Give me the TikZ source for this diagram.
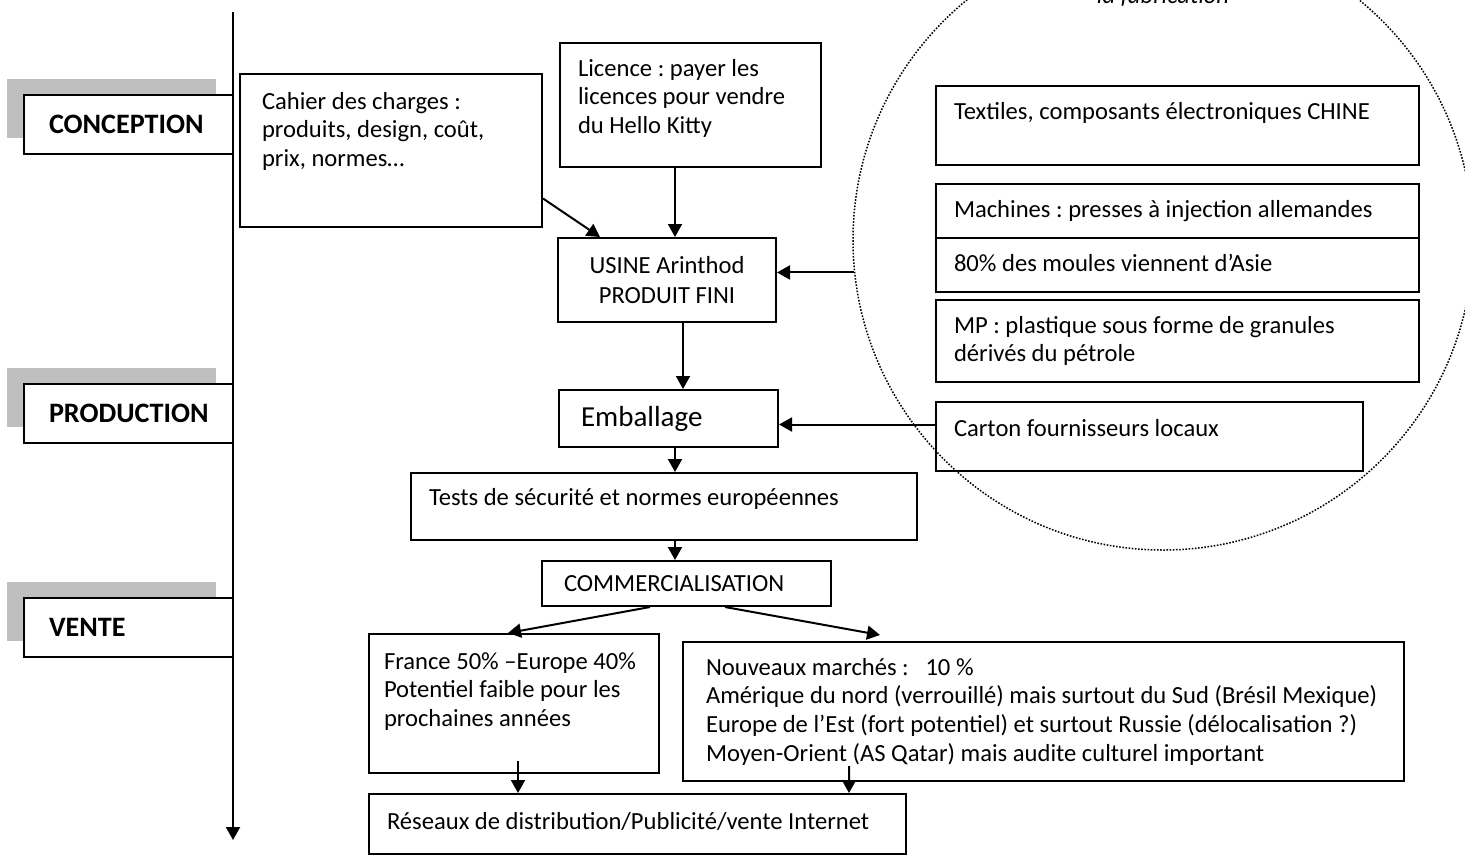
\documentclass[tikz,border=0pt]{standalone}
\usepackage{fontspec}
\setmainfont{Carlito}
\usetikzlibrary{arrows.meta, shadows}
\frenchspacing
\newcommand{\boxfont}{\fontsize{14}{16.4}\selectfont}
\newcommand{\stagefont}{\fontsize{16}{19}\selectfont\bfseries}

\begin{document}
\begin{tikzpicture}[
      font=\boxfont,
      plain/.style={draw, line width=0.04cm},
      cell/.style={plain, anchor=north west, align=flush left,
                   inner xsep=0.36cm, inner ysep=0pt, text height=0.66cm},
      stage/.style={plain, fill=white, anchor=north west, align=flush left,
                    minimum width=4.18cm, minimum height=1.18cm,
                    text width=3.18cm, inner xsep=0.5cm, font=\stagefont,
                    general shadow={fill=black!25, shadow xshift=-0.34cm,
                                    shadow yshift=0.32cm}},
      flow/.style={-{Triangle[length=0.26cm, width=0.28cm]}, line width=0.04cm},
    ]
      \useasboundingbox (0,0) rectangle (29.30,-17.08);

      % time line on the left
      \coordinate (axtop) at (4.66,-0.24);
      \coordinate (axbot) at (4.66,-16.80);
      \draw[flow] (axtop) -- (axbot);

      \node[stage] (conception) at (0.46,-1.88) {CONCEPTION};
      \node[stage] (production) at (0.46,-7.66) {PRODUCTION};
      \node[stage] (vente) at (0.46,-11.94) {VENTE};

      % conception
      \node[cell, inner xsep=0.44cm, text width=5.16cm, text height=0.70cm,
            text depth=2.36cm] (cahier) at (4.78,-1.46)
        {Cahier des charges :\\ produits, design, coût,\\ prix, normes…};
      \node[cell, text width=4.50cm, text depth=1.82cm] (licence) at (11.18,-0.84)
        {Licence : payer les\\ licences pour vendre\\ du Hello Kitty};

      % production
      \node[plain, minimum width=4.36cm, minimum height=1.68cm, align=center]
        (usine) at (13.34,-5.60) {USINE Arinthod\\[1pt] PRODUIT FINI};
      \node[plain, anchor=north west, minimum height=1.14cm, text width=3.50cm,
            inner xsep=0.44cm, align=flush left, font=\fontsize{16.5}{20}\selectfont]
        (emballage) at (11.16,-7.78) {Emballage};
      \node[cell, text width=9.40cm, text height=0.64cm, text depth=0.70cm]
        (tests) at (8.20,-9.44) {Tests de sécurité et normes européennes};

      % suppliers
      \node[draw, circle, minimum size=12.4cm, inner sep=0pt, line width=0.03cm,
            dash pattern=on 0.9pt off 0.9pt] (supply) at (23.26,-4.80) {};
      \node[font=\boxfont\itshape, anchor=base] (supplytitle) at (23.26,-0.06)
        {la fabrication};
      \node[cell, text width=8.94cm, text depth=0.92cm] (textiles) at (18.70,-1.70)
        {Textiles, composants électroniques CHINE};
      \node[cell, text width=8.94cm, text depth=0.42cm] (machines) at (18.70,-3.66)
        {Machines : presses à injection allemandes};
      \node[cell, text width=8.94cm, text depth=0.42cm] (moules) at (18.70,-4.74)
        {80\% des moules viennent d’Asie};
      \node[cell, text width=8.94cm, text depth=0.98cm] (mp) at (18.70,-5.98)
        {MP : plastique sous forme de granules\\ dérivés du pétrole};
      \node[cell, text width=7.82cm, text height=0.68cm, text depth=0.70cm]
        (carton) at (18.70,-8.02) {Carton fournisseurs locaux};

      % vente
      \node[cell, inner xsep=0.44cm, text width=4.90cm, text height=0.60cm,
            text depth=0.30cm] (comm) at (10.82,-11.20) {COMMERCIALISATION};
      \node[cell, inner xsep=0.30cm, text width=5.20cm, text height=0.70cm,
            text depth=2.08cm] (france) at (7.36,-12.66)
        {France 50\% –Europe 40\%\\ Potentiel faible pour les\\ prochaines années};
      \node[cell, inner xsep=0.46cm, text width=13.50cm, text depth=2.12cm]
        (nouveaux) at (13.64,-12.82)
        {Nouveaux marchés :~~~10~\%\\
         Amérique du nord (verrouillé) mais surtout du Sud (Brésil Mexique)\\
         Europe de l’Est (fort potentiel) et surtout Russie (délocalisation ?)\\
         Moyen-Orient (AS Qatar) mais audite culturel important};
      \node[cell, text width=10.02cm, text height=0.70cm, text depth=0.50cm]
        (reseaux) at (7.36,-15.86)
        {Réseaux de distribution/Publicité/vente Internet};

      \coordinate (spine) at (13.50,0);
      \draw[flow] ([yshift=-0.96cm]cahier.east) -- ([xshift=0.86cm]usine.north west);
      \draw[flow] (spine |- licence.south) -- (spine |- usine.north);
      \draw[flow] (supply.186) -- (supply.186 -| usine.east);
      \draw[flow] ([xshift=0.32cm]usine.south) -- ([xshift=0.32cm]usine.south |- emballage.north);
      \draw[flow] ([yshift=0.24cm]carton.west) -- ([yshift=0.24cm]carton.west -| emballage.east);
      \draw[flow] (spine |- emballage.south) -- (spine |- tests.north);
      \draw[flow] (spine |- tests.south) -- (spine |- comm.north);
      \draw[flow] ([xshift=2.18cm]comm.south west) -- ([xshift=2.80cm]france.north west);
      \draw[flow] ([xshift=3.68cm]comm.south west) -- ([xshift=3.96cm, yshift=0.12cm]nouveaux.north west);
      \draw[flow] ([xshift=3.0cm, yshift=0.26cm]france.south west) -- ([xshift=3.0cm]reseaux.north west);
      \draw[flow] ([xshift=3.34cm, yshift=0.32cm]nouveaux.south west) -- ([xshift=9.62cm]reseaux.north west);
    \end{tikzpicture}
\end{document}
